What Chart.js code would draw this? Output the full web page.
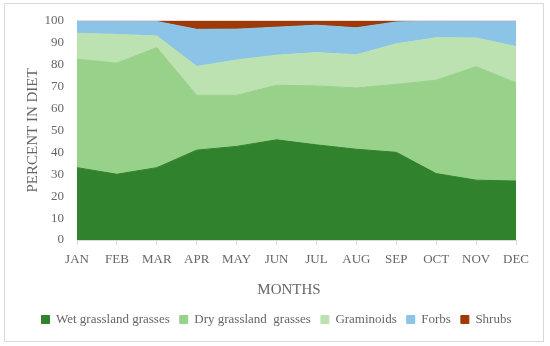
<!DOCTYPE html>
<html>
<head>
<meta charset="utf-8">
<script src="https://cdn.jsdelivr.net/npm/chart.js@4/dist/chart.umd.min.js"></script>
<style>
    html, body { margin: 0; padding: 0; background: #fff; }
    #wrap { position: relative; width: 550px; height: 346px; }
    #frame { position: absolute; left: 4px; top: 3px; width: 538px; height: 337px; border: 1px solid #d9d9d9; }
    #diet-chart { position: absolute; left: 0; top: 0; }
</style>
</head>
<body>
<div id="wrap">
    <div id="frame"></div>
    <canvas id="diet-chart" width="550" height="346"></canvas>
</div>
<script>
'use strict';

var months = ["JAN", "FEB", "MAR", "APR", "MAY", "JUN", "JUL", "AUG", "SEP", "OCT", "NOV", "DEC"];
var yTicks = [0, 10, 20, 30, 40, 50, 60, 70, 80, 90, 100];

// percent in diet for each food class (stacked)
var wetGrasses = [33, 30, 33, 41, 42.7, 45.7, 43.4, 41.4, 40, 30.3, 27.3, 26.9];
var dryGrasses = [49.5, 50.7, 54.8, 25, 23.3, 24.9, 26.9, 28, 31, 42.6, 51.8, 44.8];
var graminoids = [11.8, 13.1, 5.3, 13.2, 16.1, 13.7, 15.2, 15.1, 18.5, 19.4, 13.1, 16.6];
var forbs = [5.5, 6.0, 6.6, 16.9, 14.1, 12.8, 12.5, 12.3, 10, 7.5, 7.5, 11.4];
var shrubs = [0.2, 0.2, 0.3, 3.9, 3.8, 2.9, 2.0, 3.2, 0.5, 0.2, 0.3, 0.3];

var textColor = "#666666";
var serif = "'Liberation Serif', 'DejaVu Serif', serif";

function area(label, values, color, fill) {
    return {
        label: label,
        data: values,
        fill: fill,
        backgroundColor: color,
        borderColor: color,
        borderWidth: 1,
        pointRadius: 0,
        tension: 0
    };
}

// legend in the original sits a bit right of the canvas centre
var legendShift = {
    id: 'legendShift',
    afterLayout: function (chart) {
        chart.legend.left += 17;
        chart.legend.right += 17;
    }
};

new Chart(document.getElementById("diet-chart"), {
    type: 'line',
    data: {
        labels: months,
        datasets: [
            area("Wet grassland grasses", wetGrasses, "#31822c", 'origin'),
            area("Dry grassland  grasses", dryGrasses, "#98d28a", '-1'),
            area("Graminoids", graminoids, "#bce2b2", '-1'),
            area("Forbs", forbs, "#8cc4e8", '-1'),
            area("Shrubs", shrubs, "#9e3a06", '-1')
        ]
    },
    plugins: [legendShift],
    options: {
        responsive: false,
        animation: false,
        layout: {
            padding: { left: 3, right: 34, top: 19, bottom: 10 }
        },
        plugins: {
            legend: {
                position: 'bottom',
                labels: {
                    boxWidth: 8,
                    boxHeight: 8,
                    padding: 10,
                    color: textColor,
                    font: { family: serif, size: 13 }
                }
            },
            tooltip: { enabled: false }
        },
        scales: {
            x: {
                offset: false,
                grid: {
                    drawOnChartArea: false,
                    drawTicks: true,
                    tickLength: 5,
                    color: "#d9d9d9"
                },
                border: { color: "#d9d9d9" },
                ticks: {
                    color: textColor,
                    padding: 7,
                    maxRotation: 0,
                    font: { family: serif, size: 13 }
                },
                title: {
                    display: true,
                    text: "MONTHS    ",
                    color: textColor,
                    padding: { top: 4, bottom: 4 },
                    font: { family: serif, size: 15 }
                },
                afterFit: function (scale) { scale.height = 63; }
            },
            y: {
                stacked: true,
                min: 0,
                max: 100,
                grid: { display: false, drawTicks: false },
                border: { display: false },
                afterBuildTicks: function (scale) {
                    scale.ticks = yTicks.map(function (v) { return { value: v }; });
                },
                ticks: {
                    color: textColor,
                    padding: 13,
                    font: { family: serif, size: 13 }
                },
                title: {
                    display: true,
                    text: "PERCENT IN DIET",
                    color: textColor,
                    padding: { top: 21, bottom: 0 },
                    font: { family: serif, size: 15 }
                },
                afterFit: function (scale) { scale.width = 74; }
            }
        }
    }
});
</script>
</body>
</html>
